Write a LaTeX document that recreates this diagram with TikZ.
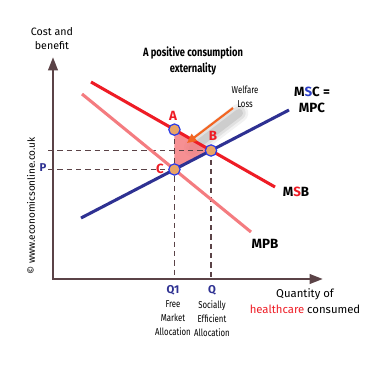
\documentclass[tikz,border=0pt]{standalone}
\usepackage{fontspec}
\setmainfont{Fira Sans}
\newfontfamily\narrowfont[FakeStretch=0.78]{Fira Sans}
\usetikzlibrary{arrows.meta}
\definecolor{axisbrown}{HTML}{5B4347}
\definecolor{msbred}{HTML}{EE1C25}
\definecolor{mpbpink}{HTML}{F47C80}
\definecolor{mscblue}{HTML}{2E3192}
\definecolor{dotfill}{HTML}{E9A467}
\definecolor{dotblue}{HTML}{2B3BE8}
\definecolor{arroworange}{HTML}{F26522}
\definecolor{letterblue}{HTML}{2D3FC8}

\begin{document}
\begin{tikzpicture}[x=0.75pt,y=-0.75pt,
    axis/.style={axisbrown, line width=2pt},
    guide/.style={axisbrown, line width=0.8pt, dash pattern=on 4pt off 3pt},
    curve/.style={line width=2.3pt},
    dot/.style={circle, draw=dotblue, fill=dotfill, line width=0.9pt, inner sep=0pt, minimum size=8.5pt},
    ptlabel/.style={text=msbred, font=\bfseries\fontsize{10}{12}\selectfont},
    qlabel/.style={text=mscblue, font=\bfseries\fontsize{8.5}{10}\selectfont},
    curvelabel/.style={font=\bfseries\fontsize{10}{12}\selectfont, align=center},
    small/.style={font=\narrowfont\fontsize{7.5}{10.5}\selectfont, align=center}]
    \useasboundingbox (0,0) rectangle (371,368);

    % axes
    \coordinate (O) at (53,279);
    \coordinate (ytop) at (53,57);
    \coordinate (xend) at (323,279);
    \coordinate (tick) at (48,279);
    \draw[axis, {Triangle[length=10pt,width=7pt]}-{Triangle[length=10pt,width=7pt]}] (ytop) -- (O) -- (xend);

    % the three curves
    \coordinate (msb1) at (91,82);   \coordinate (msb2) at (275,187);
    \coordinate (mpb1) at (82,94);   \coordinate (mpb2) at (251,232);
    \coordinate (msc1) at (81,218);  \coordinate (msc2) at (289,110);
    \coordinate (B) at (intersection of msb1--msb2 and msc1--msc2);
    \coordinate (C) at (intersection of mpb1--mpb2 and msc1--msc2);
    \path (C) ++(0,-80) coordinate (Cup);
    \coordinate (A) at (intersection of msb1--msb2 and C--Cup);

    % soft shadow behind the arrow
    \coordinate (losstail) at (233,108);
    \coordinate (losstip) at (187,143);
    \foreach \w/\op in {14/0.05, 10/0.07, 6/0.09}
      \draw[black, line width=\w pt, opacity=\op, line cap=round]
        ([shift={(6,5)}]losstail) -- ([shift={(6,5)}]losstip);

    % welfare loss triangle
    \fill[mpbpink, fill opacity=0.85] (A) -- (B) -- (C) -- cycle;

    % guide lines
    \draw[guide] (A) -- (A |- O);
    \draw[guide] (B) -- (B |- O);
    \draw[guide] (tick |- B) -- (B);
    \draw[guide] (tick |- C) -- (C);

    \draw[curve, mpbpink] (mpb1) -- (mpb2);
    \draw[curve, msbred] (msb1) -- (msb2);
    \draw[curve, mscblue] (msc1) -- (msc2);

    \node[dot] (dotA) at (A) {};
    \node[dot] (dotB) at (B) {};
    \node[dot] (dotC) at (C) {};

    % labels
    \node[ptlabel] (lblA) at (173,116) {A};
    \node[ptlabel] (lblB) at (213,136) {B};
    \node[ptlabel] (lblC) at (160,169) {C};
    \node[qlabel] (lblP) at (43,168) {P};
    \node[qlabel] (lblQ1) at (173,290) {Q1};
    \node[qlabel] (lblQ) at (212,290) {Q};
    \node[small, anchor=north] (free) at (173,296) {Free\\Market\\Allocation};
    \node[small, anchor=north] (social) at (212,296) {Socially\\Efficient\\Allocation};
    \node[font=\fontsize{8.5}{11.5}\selectfont, align=center] (qty) at (305,301) {Quantity of\\\textcolor{msbred}{healthcare} consumed};
    \node[font=\fontsize{8}{10.5}\selectfont, align=center] (costben) at (52,39) {Cost and\\benefit};
    \node[font=\narrowfont\bfseries\fontsize{9}{12.5}\selectfont, align=center] (title) at (193,61) {A positive consumption\\externality};
    \node[small] (loss) at (245,97) {Welfare\\Loss};
    \node[curvelabel] (msc) at (312,100) {M\textcolor{letterblue}{S}C =\\MPC};
    \node[curvelabel] (msb) at (296,192) {M\textcolor{msbred}{S}B};
    \node[curvelabel] (mpb) at (265,244) {MPB};
    \node[rotate=90, font=\fontsize{7.5}{9}\selectfont] (copy) at (31,206) {\copyright\ www.economicsonline.co.uk};

    % arrow to the welfare loss
    \draw[arroworange, line width=1.6pt, -{Triangle[length=7pt,width=6.5pt]}] (losstail) -- (losstip);
\end{tikzpicture}
\end{document}
